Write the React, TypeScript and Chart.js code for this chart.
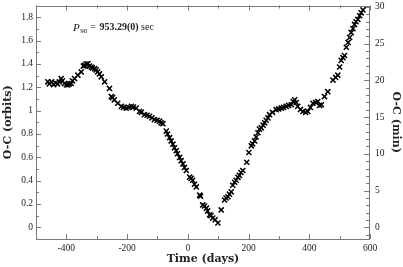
import React, { useEffect, useRef } from "react";
import { Chart, registerables } from "chart.js";

Chart.register(...registerables);

// Observed minus calculated timings (days since reference, O-C in orbits)
const days: number[] = [
  -461, -456, -449, -442, -436, -429, -423, -417, -413, -406, -400, -395, -390, -384, -380, -373,
  -362, -351, -344, -340, -335, -329, -324, -318, -314, -307, -302, -297, -291, -285, -274, -258,
  -252, -248, -242, -231, -219, -212, -203, -195, -186, -179, -170, -159, -153, -143, -134, -126,
  -118, -110, -101, -93, -88, -82, -71, -67, -60, -55, -49, -44, -38, -34, -27, -22, -16, -11, -5,
  6, 11, 16, 22, 28, 39, 42, 49, 55, 61, 65, 72, 76, 82, 90, 99, 110, 121, 126, 132, 137, 143, 148,
  154, 159, 165, 170, 175, 181, 194, 201, 209, 213, 220, 225, 231, 236, 242, 248, 253, 258, 264,
  269, 279, 291, 299, 308, 315, 324, 332, 341, 347, 352, 357, 362, 371, 379, 388, 395, 404, 412,
  421, 428, 434, 440, 450, 461, 478, 487, 494, 500, 505, 511, 516, 522, 528, 533, 538, 544, 549,
  554, 560, 566, 571, 577,
];
const ocOrbits: number[] = [
  1.246, 1.229, 1.246, 1.221, 1.238, 1.229, 1.246, 1.274, 1.255, 1.232, 1.221, 1.219, 1.229, 1.232,
  1.255, 1.274, 1.303, 1.331, 1.381, 1.387, 1.398, 1.401, 1.381, 1.373, 1.365, 1.359, 1.348, 1.331,
  1.314, 1.289, 1.246, 1.19, 1.12, 1.111, 1.092, 1.063, 1.036, 1.027, 1.021, 1.027, 1.036, 1.031,
  1.021, 0.993, 0.985, 0.965, 0.96, 0.951, 0.938, 0.923, 0.917, 0.909, 0.895, 0.888, 0.824, 0.799,
  0.768, 0.74, 0.712, 0.681, 0.656, 0.63, 0.599, 0.571, 0.543, 0.512, 0.487, 0.43, 0.419, 0.403,
  0.369, 0.346, 0.276, 0.267, 0.192, 0.183, 0.164, 0.141, 0.107, 0.099, 0.079, 0.065, 0.037, 0.149,
  0.234, 0.251, 0.262, 0.284, 0.304, 0.36, 0.386, 0.403, 0.428, 0.445, 0.47, 0.487, 0.557, 0.641,
  0.698, 0.715, 0.74, 0.774, 0.81, 0.841, 0.852, 0.875, 0.895, 0.917, 0.937, 0.965, 0.985, 1.008,
  1.014, 1.021, 1.027, 1.036, 1.044, 1.05, 1.078, 1.092, 1.069, 1.036, 1.01, 0.993, 0.985, 0.993,
  1.027, 1.063, 1.069, 1.078, 1.044, 1.05, 1.12, 1.162, 1.261, 1.284, 1.303, 1.373, 1.43, 1.453,
  1.472, 1.542, 1.584, 1.626, 1.668, 1.702, 1.738, 1.761, 1.781, 1.812, 1.837, 1.862,
];

const PERIOD_SEC = 953.29;
const ORBIT_MIN = PERIOD_SEC / 60;

const xRange = [-500, 600];
const yRange = [-0.1, 1.9];
const xMajorTicks = [-400, -200, 0, 200, 400, 600];
const xMinorTicks = [-500, -300, -100, 100, 300, 500];
const yMajorTicks = [0, 0.2, 0.4, 0.6, 0.8, 1, 1.2, 1.4, 1.6, 1.8];
const yMinorTicks = [-0.1, 0.1, 0.3, 0.5, 0.7, 0.9, 1.1, 1.3, 1.5, 1.7, 1.9];
const minMajorTicks = [0, 5, 10, 15, 20, 25, 30];
const minMinorTicks = [-1, 1, 2, 3, 4, 6, 7, 8, 9, 11, 12, 13, 14, 16, 17, 18, 19, 21, 22, 23, 24, 26, 27, 28, 29];

const FRAME = "#7a7a7a";
const TEXT = "#222";
const TICK_FONT = { family: "'Liberation Serif', serif", size: 9.5 };
const TITLE_FONT = { family: "'DejaVu Serif', serif", size: 11, weight: "bold" as const };

const framePlugin = {
  id: "frameTicks",
  beforeDatasetsDraw(chart: any) {
    const { ctx, chartArea } = chart;
    const { left, right, top, bottom } = chartArea;
    const sx = chart.scales.x;
    const sy = chart.scales.y;
    const sy2 = chart.scales.y2;
    ctx.save();
    ctx.strokeStyle = FRAME;
    ctx.lineWidth = 1;
    ctx.strokeRect(Math.round(left) + 0.5, Math.round(top) + 0.5, Math.round(right - left) - 1, Math.round(bottom - top) - 1);
    ctx.beginPath();
    const vt = (vals: number[], len: number) => {
      vals.forEach((v) => {
        const px = Math.round(sx.getPixelForValue(v)) + 0.5;
        ctx.moveTo(px, bottom);
        ctx.lineTo(px, bottom - len);
        ctx.moveTo(px, top);
        ctx.lineTo(px, top + len);
      });
    };
    vt(xMajorTicks, 5);
    vt(xMinorTicks, 3);
    const ht = (scale: any, vals: number[], len: number, fromLeft: boolean) => {
      vals.forEach((v) => {
        const py = Math.round(scale.getPixelForValue(v)) + 0.5;
        if (fromLeft) {
          ctx.moveTo(left, py);
          ctx.lineTo(left + len, py);
        } else {
          ctx.moveTo(right, py);
          ctx.lineTo(right - len, py);
        }
      });
    };
    ht(sy, yMajorTicks, 5, true);
    ht(sy, yMinorTicks, 3, true);
    ht(sy2, minMajorTicks, 6, false);
    ht(sy2, minMinorTicks, 4, false);
    ctx.stroke();
    ctx.restore();
  },
  afterDraw(chart: any) {
    const { ctx } = chart;
    const sx = chart.scales.x;
    const sy = chart.scales.y;
    let x = sx.getPixelForValue(-378);
    const y = sy.getPixelForValue(1.71);
    ctx.save();
    ctx.fillStyle = TEXT;
    ctx.textBaseline = "middle";
    ctx.textAlign = "left";
    ctx.font = "italic 11px 'Liberation Serif', serif";
    ctx.fillText("P", x, y);
    x += ctx.measureText("P").width + 0.5;
    ctx.font = "7px 'Liberation Serif', serif";
    ctx.fillText("90", x, y + 3);
    x += ctx.measureText("90").width + 3;
    ctx.font = "10px 'Liberation Serif', serif";
    ctx.fillText("=", x, y);
    x += ctx.measureText("= ").width + 1;
    ctx.font = "bold 10px 'Liberation Serif', serif";
    ctx.fillText("953.29(0)", x, y);
    x += ctx.measureText("953.29(0) ").width;
    ctx.font = "10px 'Liberation Serif', serif";
    ctx.fillText("sec", x, y);
    ctx.restore();
  },
};

const setTicks = (vals: number[]) => (scale: any) => {
  scale.ticks = vals.map((v) => ({ value: v }));
};

export default function App() {
  const ref = useRef<HTMLCanvasElement>(null);
  useEffect(() => {
    document.body.style.margin = "0";
    const canvas = ref.current!;
    const points = days.map((d, i) => ({ x: d, y: ocOrbits[i] }));
    const chart = new Chart(canvas, {
      type: "scatter",
      data: {
        datasets: [
          {
            data: points,
            pointStyle: "crossRot",
            pointRadius: 3.6,
            pointBorderWidth: 1.5,
            borderColor: "#000",
            backgroundColor: "#000",
            showLine: false,
          },
        ],
      },
      plugins: [framePlugin],
      options: {
        responsive: false,
        animation: false,
        devicePixelRatio: 1,
        layout: { padding: { top: 2, left: 0, right: 0, bottom: 0 } },
        plugins: { legend: { display: false }, tooltip: { enabled: false } },
        scales: {
          x: {
            type: "linear",
            position: "bottom",
            min: xRange[0],
            max: xRange[1],
            grid: { display: false, drawTicks: false },
            border: { display: false },
            afterBuildTicks: setTicks(xMajorTicks),
            ticks: { color: TEXT, font: TICK_FONT, padding: 4, maxRotation: 0 },
            title: { display: true, text: "Time (days)", color: TEXT, font: TITLE_FONT, padding: { top: 0, bottom: 1 } },
            afterFit: (s: any) => {
              s.height = 28;
              s.paddingLeft = 0;
              s.paddingRight = 0;
            },
          },
          y: {
            type: "linear",
            position: "left",
            min: yRange[0],
            max: yRange[1],
            grid: { display: false, drawTicks: false },
            border: { display: false },
            afterBuildTicks: setTicks(yMajorTicks),
            ticks: { color: TEXT, font: TICK_FONT, padding: 3, callback: (v: any) => String(Number(v)) },
            title: { display: true, text: "O-C (orbits)", color: TEXT, font: TITLE_FONT, padding: { top: 1.5, bottom: 0 } },
            afterFit: (s: any) => {
              s.width = 36;
              s.paddingTop = 0;
              s.paddingBottom = 0;
            },
          },
          y2: {
            type: "linear",
            position: "right",
            min: yRange[0] * ORBIT_MIN,
            max: yRange[1] * ORBIT_MIN,
            grid: { display: false, drawTicks: false },
            border: { display: false },
            afterBuildTicks: setTicks(minMajorTicks),
            ticks: { color: TEXT, font: TICK_FONT, padding: 5 },
            title: { display: true, text: "O-C (min)", color: TEXT, font: TITLE_FONT, padding: { top: 0.5, bottom: 0 } },
            afterFit: (s: any) => {
              s.width = 33;
              s.paddingTop = 0;
              s.paddingBottom = 0;
            },
          },
        },
      },
    });
    return () => chart.destroy();
  }, []);
  return (
    <div style={{ position: "absolute", left: 0, top: 0, width: 403, height: 267 }}>
      <canvas ref={ref} width={403} height={267} />
    </div>
  );
}
